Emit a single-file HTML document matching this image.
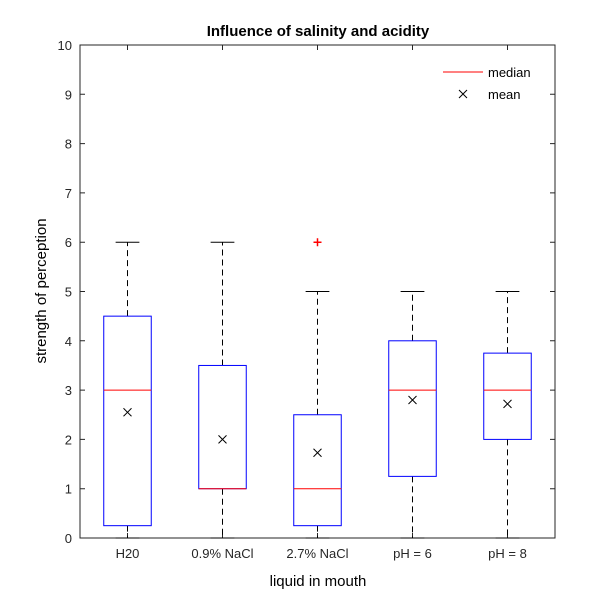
<!DOCTYPE html>
<html><head><meta charset="utf-8"><style>
body{margin:0;background:#fff;}
svg{display:block;font-family:"Liberation Sans",Arial,sans-serif;}
</style></head><body>
<svg id="c" width="615" height="604" viewBox="0 0 615 604">
<rect width="615" height="604" fill="#fff"/>
<text x="318" y="36" text-anchor="middle" font-size="15" font-weight="bold">Influence of salinity and acidity</text>
<g id="plot"></g>
<text x="318" y="586" text-anchor="middle" font-size="15">liquid in mouth</text>
<text transform="translate(46,291) rotate(-90)" text-anchor="middle" font-size="15">strength of perception</text>
<g>
<line x1="443" y1="72" x2="483" y2="72" stroke="#f00" stroke-width="1"/>
<text x="488" y="77" font-size="13">median</text>
<path d="M459,90 l8,8 M467,90 l-8,8" stroke="#000" stroke-width="1"/>
<text x="488" y="99" font-size="13">mean</text>
</g>
</svg>
<script>
const categories=["H20","0.9% NaCl","2.7% NaCl","pH = 6","pH = 8"];
const whiskerLow=[0,0,0,0,0];
const q1=[0.25,1,0.25,1.25,2];
const medians=[3,1,1,3,3];
const q3=[4.5,3.5,2.5,4,3.75];
const whiskerHigh=[6,6,5,5,5];
const means=[2.55,2,1.73,2.8,2.72];
const outliers=[[],[],[6],[],[]];
const yTicks=[0,1,2,3,4,5,6,7,8,9,10];
const L=80,R=555,T=45,B=538;
const xs=i=>L+(i+0.5)*(R-L)/categories.length;
const ys=v=>B-v*(B-T)/10;
const ns="http://www.w3.org/2000/svg";
const g=document.getElementById('plot');
function mk(t,a){const e=document.createElementNS(ns,t);for(const k in a)e.setAttribute(k,a[k]);g.appendChild(e);return e;}
let e=mk('rect',{x:L,y:T,width:R-L,height:B-T,fill:'none',stroke:'#262626','stroke-width':1});


yTicks.forEach(v=>{
 let t=mk('path',{d:`M${L},${ys(v)}h5M${R},${ys(v)}h-5`,stroke:'#262626'});
 
 
 let l=mk('text',{x:L-8,y:ys(v)+5,'text-anchor':'end','font-size':13,fill:'#262626'});
 l.textContent=v;
 
 
});
const bw=(R-L)/categories.length*0.25;
categories.forEach((c,i)=>{
 const x=xs(i);
 let t=mk('path',{d:`M${x},${B}v-5M${x},${T}v5`,stroke:'#262626'});
 
 
 let l=mk('text',{x:x,y:B+20,'text-anchor':'middle','font-size':13,fill:'#262626'});
 l.textContent=c;
 
 
 let w=mk('path',{d:`M${x},${ys(q3[i])}V${ys(whiskerHigh[i])}M${x},${ys(q1[i])}V${ys(whiskerLow[i])}`,stroke:'#000','stroke-dasharray':'6,4',fill:'none'});
 
 
 let cp=mk('path',{d:`M${x-bw/2},${ys(whiskerHigh[i])}h${bw}M${x-bw/2},${ys(whiskerLow[i])}h${bw}`,stroke:'#000'});
 
 
 let b=mk('rect',{x:x-bw,y:ys(q3[i]),width:2*bw,height:ys(q1[i])-ys(q3[i]),fill:'none',stroke:'#00f'});
 
 
 let m=mk('line',{x1:x-bw,x2:x+bw,y1:ys(medians[i]),y2:ys(medians[i]),stroke:'#f00'});
 
 
 const my=ys(means[i]);
 let mn=mk('path',{d:`M${x-4},${my-4}l8,8M${x+4},${my-4}l-8,8`,stroke:'#000'});
 
 
 outliers[i].forEach(v=>{
  let o=mk('path',{d:`M${x-4},${ys(v)}h8M${x},${ys(v)-4}v8`,stroke:'#f00','stroke-width':1.5});
  
  
 });
});
</script>
</body></html>
